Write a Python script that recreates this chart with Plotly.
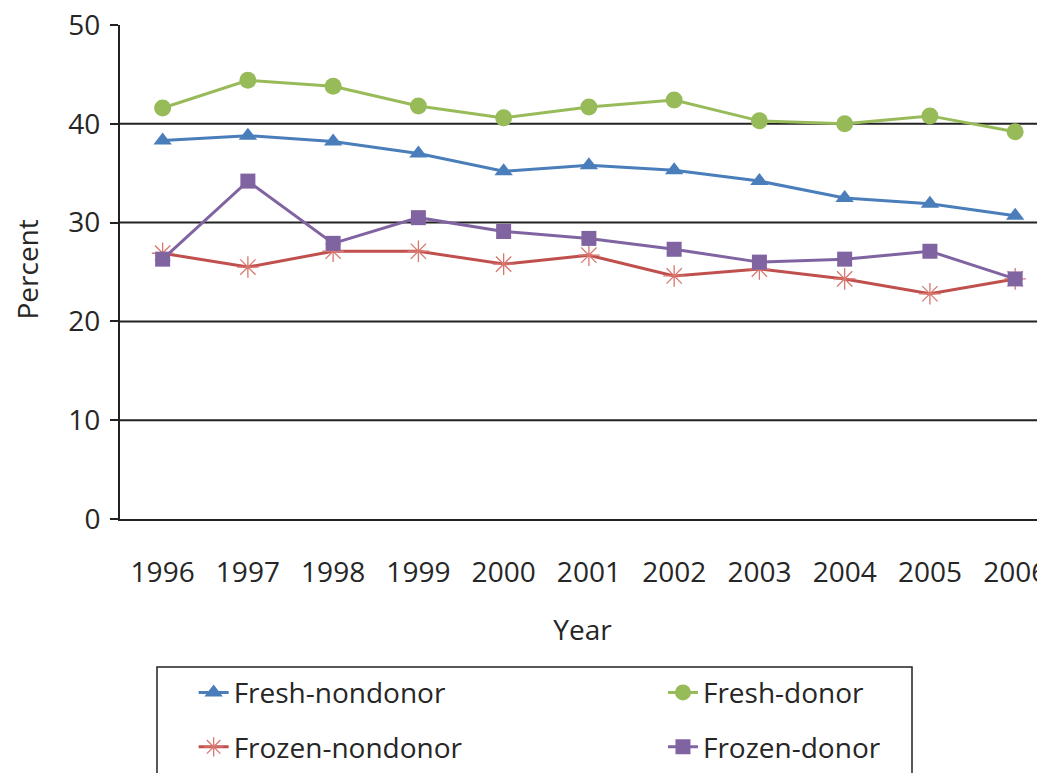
import plotly.graph_objects as go

years = ["1996", "1997", "1998", "1999", "2000", "2001", "2002", "2003", "2004", "2005", "2006"]
fresh_nondonor = [38.3, 38.8, 38.2, 37.0, 35.2, 35.8, 35.3, 34.2, 32.5, 31.9, 30.7]
fresh_donor = [41.6, 44.4, 43.8, 41.8, 40.6, 41.7, 42.4, 40.3, 40.0, 40.8, 39.2]
frozen_nondonor = [26.9, 25.5, 27.1, 27.1, 25.8, 26.7, 24.6, 25.3, 24.3, 22.8, 24.3]
frozen_donor = [26.3, 34.2, 27.9, 30.5, 29.1, 28.4, 27.3, 26.0, 26.3, 27.1, 24.3]

FONT = "Open Sans"
TXT = "#262626"
FS = 28

fig = go.Figure()
fig.add_trace(go.Scatter(x=years, y=fresh_nondonor, name="Fresh-nondonor", mode="lines+markers",
                         line=dict(color="#4A7EBB", width=3),
                         marker=dict(symbol="triangle-up", size=16, color="#4A7EBB"),
                         legend="legend", legendgroup="a"))
fig.add_trace(go.Scatter(x=years, y=fresh_donor, name="Fresh-donor", mode="lines+markers",
                         line=dict(color="#98BB5A", width=3),
                         marker=dict(symbol="circle", size=17, color="#98BB5A"),
                         legend="legend2", legendgroup="b"))
fig.add_trace(go.Scatter(x=years, y=frozen_nondonor, name="Frozen-nondonor", mode="lines+markers",
                         line=dict(color="#C0504D", width=3),
                         marker=dict(symbol="asterisk-open", size=18, color="#D9776F",
                                     line=dict(color="#D9776F", width=1.3)),
                         legend="legend", legendgroup="c"))
fig.add_trace(go.Scatter(x=years, y=frozen_donor, name="Frozen-donor", mode="lines+markers",
                         line=dict(color="#8064A2", width=3),
                         marker=dict(symbol="square", size=15, color="#8064A2"),
                         legend="legend2", legendgroup="d"))

legend_common = dict(orientation="v", xanchor="left", yanchor="top",
                     font=dict(family=FONT, size=FS, color=TXT),
                     bgcolor="rgba(0,0,0,0)", borderwidth=0, tracegroupgap=15,
                     traceorder="grouped")

# page body has an 8px margin: figure sized to end exactly at the window edge
W, H = 1037, 765
PL, PT, PB = 112, 17, 254  # plot area 120..1045 x, 25..519 y in window coords

fig.update_layout(
    width=W, height=H,
    margin=dict(l=PL, r=0, t=PT, b=PB, autoexpand=False),
    plot_bgcolor="white", paper_bgcolor="white",
    font=dict(family=FONT, size=FS, color=TXT),
    xaxis=dict(type="category", range=[-0.5, 10.35], showgrid=False, automargin=False,
               showline=True, linecolor="#222", linewidth=2, ticks="",
               ticklabelstandoff=27, tickfont=dict(size=FS, color=TXT),
               ticklabeloverflow="allow",
               title=dict(text="Year", font=dict(size=FS, color=TXT), standoff=32)),
    yaxis=dict(range=[0, 50], tickvals=[0, 10, 20, 30, 40, 50], automargin=False,
               showgrid=False, zeroline=False,
               showline=True, linecolor="#222", linewidth=2,
               ticks="outside", ticklen=8, tickwidth=2, tickcolor="#222",
               ticklabelstandoff=4, tickfont=dict(size=FS, color=TXT),
               ticklabeloverflow="allow"),
    showlegend=True,
    legend=dict(x=0.0796, y=-0.301, **legend_common),
    legend2=dict(x=0.587, y=-0.301, **legend_common),
)

# y-axis title placed as a rotated annotation in the far-left margin
fig.add_annotation(text="Percent", xref="paper", yref="paper",
                   x=(27 - 120) / 925, y=0.505, xanchor="center", yanchor="middle",
                   textangle=-90, showarrow=False,
                   font=dict(family=FONT, size=FS, color=TXT))

# horizontal gridlines at 10..40
for v in [10, 20, 30, 40]:
    fig.add_hline(y=v, line=dict(color="#222", width=2), layer="below")

# legend frame
fig.add_shape(type="rect", xref="paper", yref="paper",
              x0=(157 - 120) / 925, x1=(912 - 120) / 925,
              y0=(519 - 667) / 494, y1=-0.7,
              line=dict(color="#222", width=1.5), fillcolor="rgba(0,0,0,0)")

fig.write_html("out.html")
